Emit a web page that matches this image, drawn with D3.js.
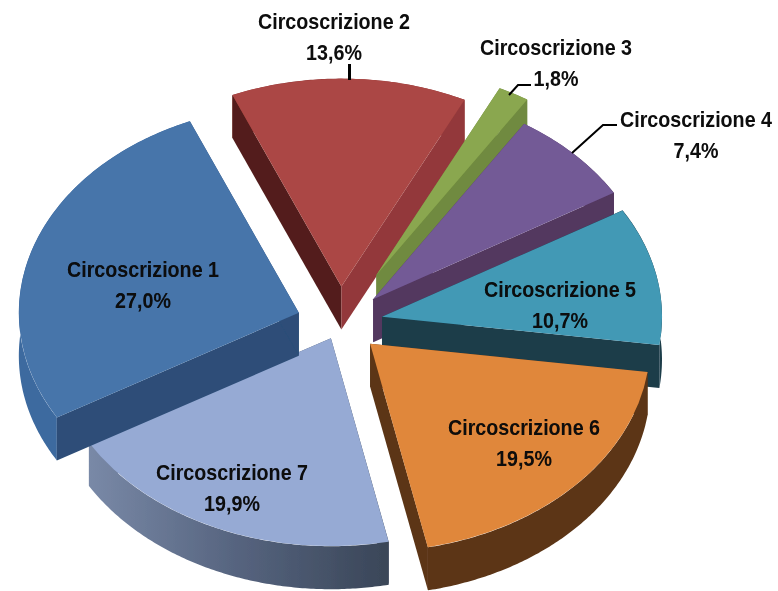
<!DOCTYPE html>
<html>
<head>
<meta charset="utf-8">
<script src="https://cdn.jsdelivr.net/npm/d3@7"></script>
<style>
html,body{margin:0;padding:0;background:#fff;overflow:hidden}
text{font-family:"Liberation Sans",Arial,sans-serif;font-weight:700;font-size:22px;fill:#080808;text-anchor:middle}
</style>
</head>
<body>
<svg id="c" width="778" height="591"></svg>
<script>
// Data
const categories = ["Circoscrizione 1","Circoscrizione 2","Circoscrizione 3","Circoscrizione 4","Circoscrizione 5","Circoscrizione 6","Circoscrizione 7"];
const values = [27.0,13.6,1.8,7.4,10.7,19.5,19.9];
const explode = [0.155,0.175,0.265,0.165,0.153,0.147,0.08];

// Styling
const topColors  = ["#4674aa","#ab4744","#8aa74f","#735a96","#4299b5","#e0873b","#96aad4"];
const edgeColors = ["#2d4e78","#521f1c","#6f8a3f","#53375f","#1c3c49","#5b3516","url(#rim7)"];
const edgeColors2= [null,"#93393a",null,null,null,null,null];
const rimColors  = ["#3d6a9f","#93393a","#6f8a3f","#53375f","#1c3c49","#5b3516","url(#rim7)"];

// Layout
const W=778,H=591,cx=340,cy=323,rx=280,ry=208,depth=43;
const startDeg=239.8;
const textScale=0.895;
const labelX=[143,334,556,696,560,524,232];
const labelY=[277,29,55,127,297,435,480];
const lineGap=30.5;
const drawOrder=[1,2,3,4,5,6,0];
const leaders=[
  {w:3,pts:[[349.5,64],[349.5,80]]},
  {w:2,pts:[[509,95],[518,85],[531,85]]},
  {w:2,pts:[[572,153],[603,125],[617,125]]}
];

const svg=d3.select("#c");
const defs=svg.append("defs");
const soft=(id,s)=>defs.append("filter").attr("id",id).attr("x","-5%").attr("y","-5%").attr("width","110%").attr("height","110%")
  .append("feGaussianBlur").attr("stdDeviation",s);
soft("soft",0.55); soft("softText",0.3);
const g7=defs.append("linearGradient").attr("id","rim7").attr("gradientUnits","userSpaceOnUse")
  .attr("x1",85).attr("x2",387).attr("y1",0).attr("y2",0);
g7.append("stop").attr("offset",0).attr("stop-color","#7a8aa8");
g7.append("stop").attr("offset",0.5).attr("stop-color","#56647f");
g7.append("stop").attr("offset",1).attr("stop-color","#3a4658");

const rad=d=>d*Math.PI/180;
const pie=d3.pie().sort(null).startAngle(rad(startDeg)).endAngle(rad(startDeg+360));
const arcs=pie(values);
const unitArc=d3.arc().innerRadius(0).outerRadius(1);
const line=d3.line();

const shapes=svg.append("g").attr("filter","url(#soft)");
drawOrder.forEach(i=>{
  const a=arcs[i], mid=(a.startAngle+a.endAngle)/2;
  const ox=cx+explode[i]*rx*Math.sin(mid), oy=cy-explode[i]*ry*Math.cos(mid);
  const P=(t,r,dz)=>[ox+rx*r*Math.sin(t), oy-ry*r*Math.cos(t)+(dz||0)];
  const g=shapes.append("g");
  const ts=d3.range(a.startAngle,a.endAngle,0.01).concat([a.endAngle]);
  const rim=ts.map(t=>P(t,1,0)).concat(ts.slice().reverse().map(t=>P(t,1,depth)));
  g.append("path").attr("d",line(rim)+"Z").attr("fill",rimColors[i]);
  const edge=(t,col)=>g.append("path")
     .attr("d",line([P(t,0,0),P(t,1,0),P(t,1,depth),P(t,0,depth)])+"Z").attr("fill",col);
  edge(a.startAngle,edgeColors[i]);
  edge(a.endAngle,edgeColors2[i]||edgeColors[i]);
  g.append("path")
    .attr("d",unitArc({startAngle:a.startAngle,endAngle:a.endAngle}))
    .attr("transform",`translate(${ox},${oy}) scale(${rx},${ry})`)
    .attr("fill",topColors[i]);
});

leaders.forEach(l=>svg.append("path").attr("d",line(l.pts)).attr("fill","none")
  .attr("stroke","#000").attr("stroke-width",l.w));

const fmt=v=>v.toFixed(1).replace(".",",")+"%";
const labels=svg.append("g").attr("filter","url(#softText)");
categories.forEach((c,i)=>{
  labels.append("text").attr("transform",`translate(${labelX[i]},${labelY[i]}) scale(${textScale},1)`).text(c);
  labels.append("text").attr("transform",`translate(${labelX[i]},${labelY[i]+lineGap}) scale(${textScale},1)`).text(fmt(values[i]));
});
</script>
</body>
</html>
